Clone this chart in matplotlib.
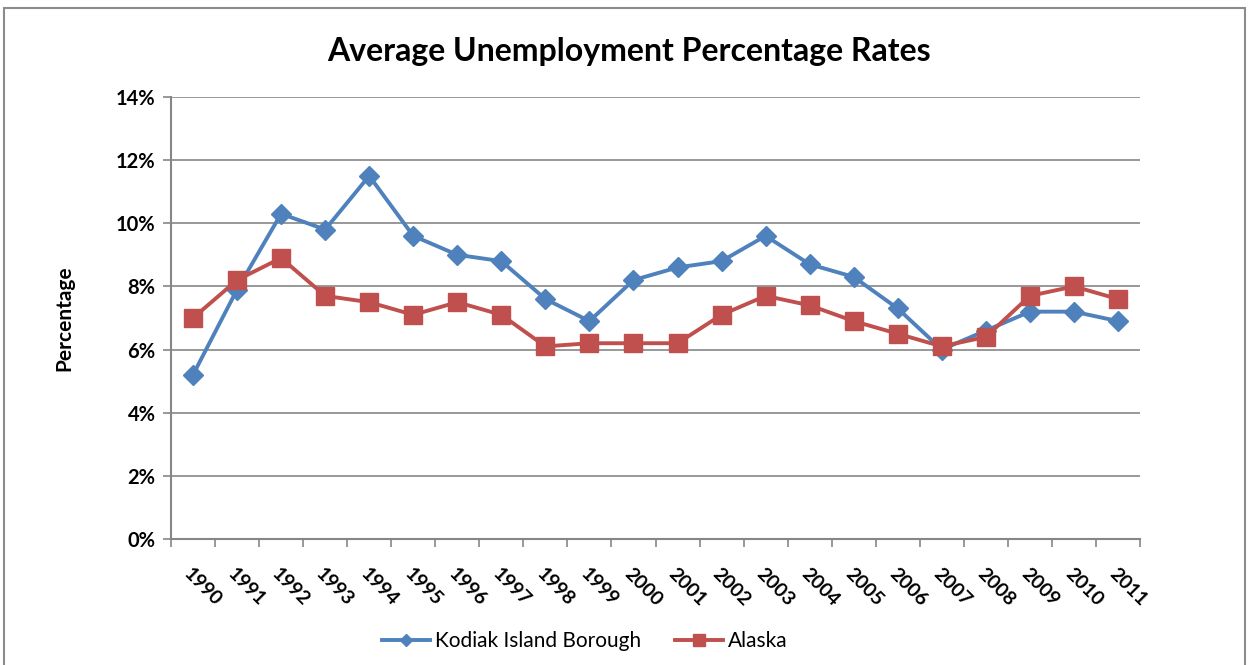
import matplotlib
matplotlib.use("Agg")
import matplotlib.pyplot as plt
from matplotlib.patches import Rectangle
from matplotlib.ticker import FuncFormatter, FixedLocator

plt.rcParams['font.family'] = ['Lato', 'DejaVu Sans']

years = [str(y) for y in range(1990, 2012)]
kodiak = [5.2, 7.9, 10.3, 9.8, 11.5, 9.6, 9.0, 8.8, 7.6, 6.9, 8.2,
          8.6, 8.8, 9.6, 8.7, 8.3, 7.3, 6.0, 6.6, 7.2, 7.2, 6.9]
alaska = [7.0, 8.2, 8.9, 7.7, 7.5, 7.1, 7.5, 7.1, 6.1, 6.2, 6.2,
          6.2, 7.1, 7.7, 7.4, 6.9, 6.5, 6.1, 6.4, 7.7, 8.0, 7.6]

blue = '#4F81BD'
red = '#C0504D'
axis_grey = '#868686'

fig = plt.figure(figsize=(12.5, 6.65), dpi=100)
ax = fig.add_axes([0.1368, 0.1895, 0.7752, 0.6647])

x = list(range(len(years)))
ax.plot(x, kodiak, color=blue, lw=2.8, marker='D', ms=10,
        mec=blue, mfc=blue, label='Kodiak Island Borough', zorder=3)
ax.plot(x, alaska, color=red, lw=2.8, marker='s', ms=13.5,
        mec=red, mfc=red, label='Alaska', zorder=4)

ax.set_xlim(-0.5, len(years) - 0.5)
ax.set_ylim(0, 14)
ax.set_yticks(range(0, 15, 2))
ax.yaxis.set_major_formatter(FuncFormatter(lambda v, p: f'{int(v)}%'))
ax.yaxis.grid(True, color=axis_grey, lw=1.2)
ax.set_axisbelow(True)

# tick marks sit on category boundaries, labels on category centres
ax.set_xticks(x)
ax.set_xticklabels(years, rotation=-45, ha='left', va='top',
                   rotation_mode='anchor', fontsize=14, fontweight='bold')
ax.tick_params(axis='x', which='major', length=0, pad=19)
ax.xaxis.set_minor_locator(FixedLocator([i - 0.5 for i in range(len(years) + 1)]))
ax.tick_params(axis='x', which='minor', length=6, width=1.2, color=axis_grey)
ax.tick_params(axis='y', length=6, width=1.2, color=axis_grey, labelsize=14.5, pad=5)
for lab in ax.get_yticklabels():
    lab.set_fontweight('bold')

for side in ('top', 'right'):
    ax.spines[side].set_visible(False)
for side in ('left', 'bottom'):
    ax.spines[side].set_color(axis_grey)
    ax.spines[side].set_linewidth(1.5)

ax.set_ylabel('Percentage', fontsize=15, fontweight='bold', labelpad=30)
fig.text(0.503, 0.922, 'Average Unemployment Percentage Rates',
         ha='center', va='center', fontsize=23, fontweight='bold')

fig.legend(loc='center', bbox_to_anchor=(0.468, 0.036), ncol=2, frameon=False,
           fontsize=15, handlelength=2.3, columnspacing=1.6, handletextpad=0.25,
           markerscale=0.65)

# outer chart frame
fig.patches.append(Rectangle((4 / 1250, -0.05), 1241 / 1250, 1 - 8 / 665 + 0.05,
                             transform=fig.transFigure, fill=False,
                             edgecolor='#8C8C8C', lw=1.5))

fig.savefig('out.png', dpi=100)
